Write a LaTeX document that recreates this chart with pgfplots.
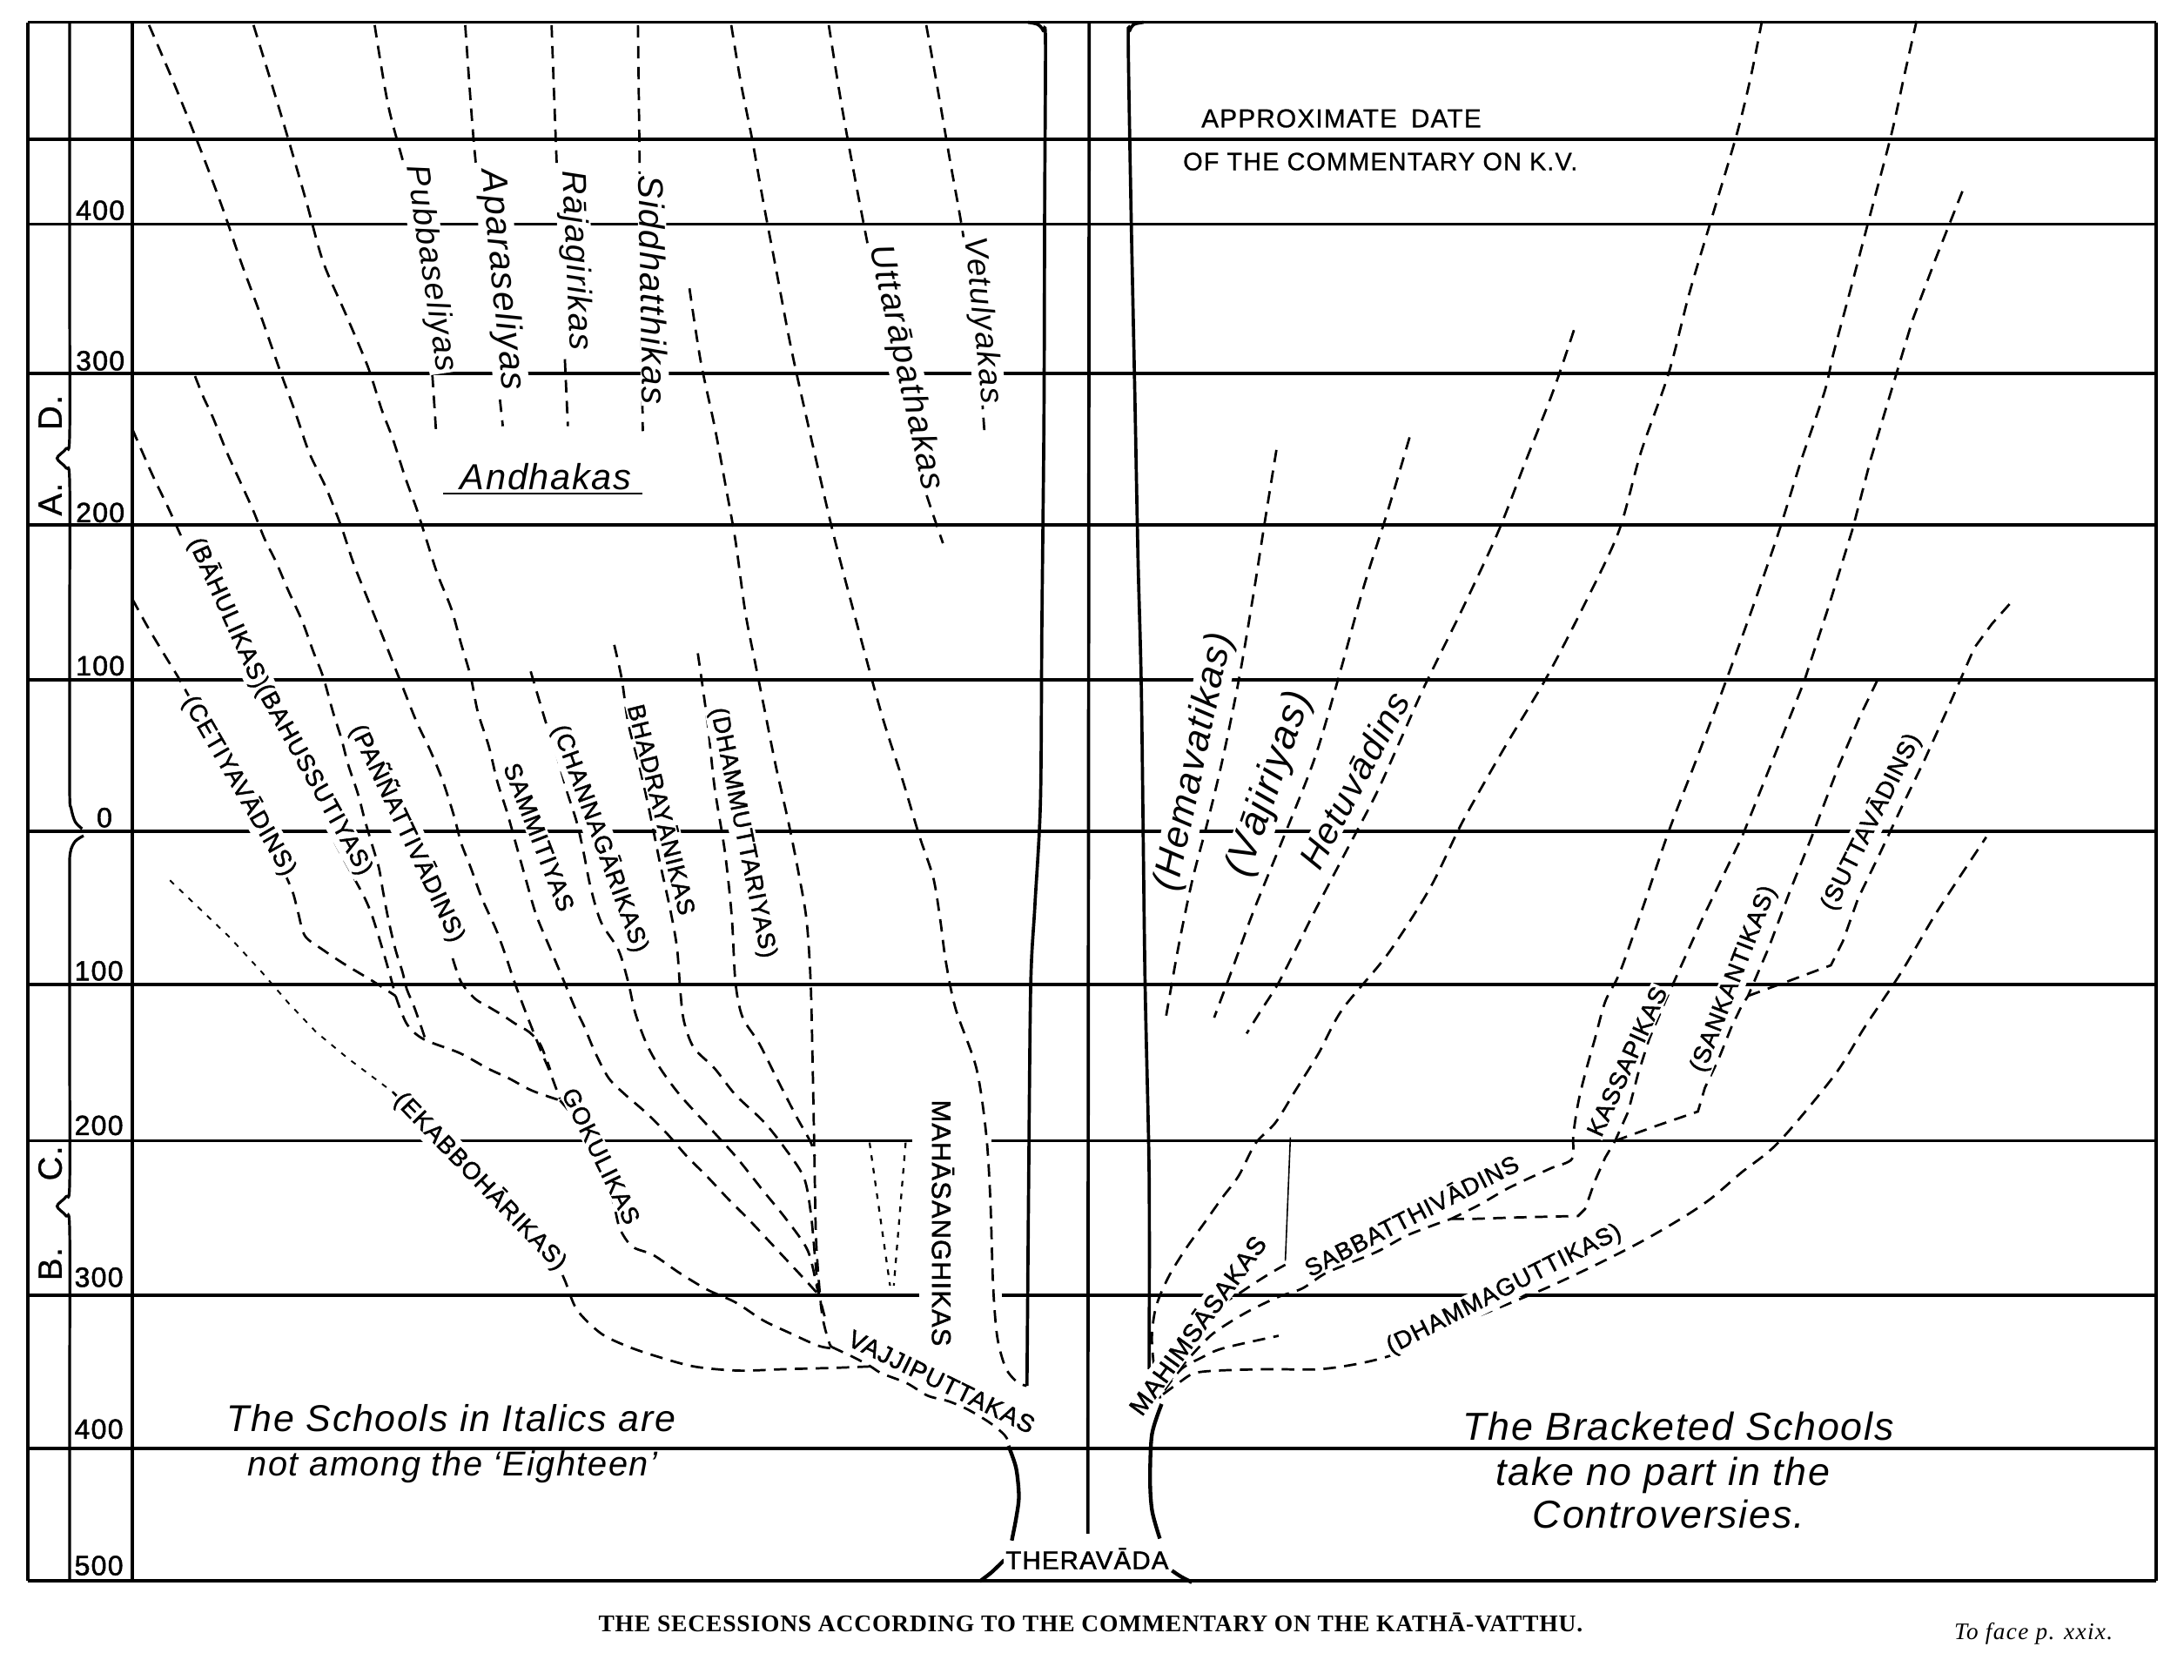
\documentclass[border=0pt]{standalone}
\usepackage{fontspec}
\setmainfont{Liberation Sans}
\newfontfamily\lsans{Liberation Sans}[LetterSpace=4, FakeBold=1.5]
\newfontfamily\lhead{Liberation Sans}[LetterSpace=4, FakeBold=0.8]
\newfontfamily\lital{Liberation Sans}[LetterSpace=4]
\newfontfamily\capser{Liberation Serif}[LetterSpace=3]
\newfontfamily\itser{Liberation Serif}[LetterSpace=5]
\usepackage{pgfplots}
\pgfplotsset{compat=1.18}
\newcommand\fs[1]{\fontsize{#1}{#1}\selectfont}
\tikzset{
  sl/.style={black, line width=1.15pt},
  tl/.style={black, line width=1.35pt},
  dl/.style={black, line width=0.85pt, dash pattern=on 4.5pt off 3pt},
  fl/.style={black, line width=0.6pt, dash pattern=on 2pt off 2.6pt},
  capl/.style={font=\lsans\fs{8.7}, fill=white, inner sep=0.6pt},
  itl/.style={fill=white, inner sep=0.4pt},
  yl/.style={font=\lsans\fs{10}, inner sep=0pt},
}
\newcommand\cl[4]{\node[capl, rotate=#3] at (axis cs:#1,#2) {#4};}
\newcommand\il[5]{\node[itl, rotate=#4, font=\lital\itshape\fs{#5}] at (axis cs:#1,#2) {#3};}
\begin{document}
\begin{tikzpicture}
\begin{axis}[scale only axis, width=784pt, height=603pt,
  xmin=0, xmax=1568, ymin=0, ymax=1206, y dir=reverse,
  axis lines=none, clip=false]
\path (axis cs:0,0) rectangle (axis cs:1568,1206);
% ---------- frame and grid ----------
\addplot[sl] coordinates {(20,16) (1548,16)};
\addplot[sl] coordinates {(20,1135) (1548,1135)};
\addplot[sl] coordinates {(20,16) (20,1135)};
\addplot[sl] coordinates {(1548,16) (1548,1135)};
\addplot[sl] coordinates {(95,16) (95,1135)};
\addplot[sl] coordinates {(20,100) (1548,100)};
\addplot[sl] coordinates {(20,161) (1548,161)};
\addplot[sl] coordinates {(20,268) (1548,268)};
\addplot[sl] coordinates {(20,377) (1548,377)};
\addplot[sl] coordinates {(20,488) (1548,488)};
\addplot[sl] coordinates {(20,597) (1548,597)};
\addplot[sl] coordinates {(20,707) (1548,707)};
\addplot[sl] coordinates {(20,819) (655,819)};
\addplot[sl] coordinates {(712,819) (1548,819)};
\addplot[sl] coordinates {(20,930) (660,930)};
\addplot[sl] coordinates {(719,930) (1548,930)};
\addplot[sl] coordinates {(20,1040) (1548,1040)};
% braces
\addplot[sl, line width=1pt, smooth] coordinates {(50,16) (50,200) (50,312) (47.5,322) (41,329) (47.5,336) (50,346) (50,450) (50,566) (51,580) (54,590) (59,595)};
\addplot[sl, line width=1pt, smooth] coordinates {(60,600) (54,604) (50.5,612) (50,630) (50,750) (50,850) (47.5,859) (41,866) (47.5,873) (50,883) (50,1000) (50,1135)};
% central verticals
\addplot[sl, smooth] coordinates {(738,16) (745,17.5) (749,22) (750.6,30) (750,150) (749.5,300) (748,450) (747,575) (743,650) (740,707) (738.5,850) (737.3,995)};
\addplot[sl] coordinates {(782,16) (781,1101)};
\addplot[sl, smooth] coordinates {(821,16) (814,17.5) (811,22) (810,30) (812,150) (814.7,281) (817,400) (819.5,500) (822,700) (825,843) (825,983)};
% trunks
\addplot[tl, smooth] coordinates {(724,1038) (729.5,1054) (731.5,1074) (729.7,1089) (726.4,1106)};
\addplot[tl, smooth] coordinates {(721,1120) (712,1128.7) (703.4,1135.3)};
\addplot[tl, smooth] coordinates {(834,1008) (827,1030) (825.7,1063) (827.2,1085) (832.7,1104.6)};
\addplot[tl, smooth] coordinates {(841.4,1127.6) (848,1132) (855.7,1136)};
\addplot[black, line width=0.5pt] coordinates {(926.4,816.6) (922.8,905.2)};
% Andhakas underline
\addplot[black, line width=0.9pt] coordinates {(318,354.3) (461.5,354.3)};
% ---------- left group dashed ----------
\addplot[dl, smooth] coordinates {(269,18) (279,77) (294,134) (304,191) (309,249) (313,309)};
\addplot[dl, smooth] coordinates {(334,18) (340,100) (348,180) (355,250) (361,306)};
\addplot[dl, smooth] coordinates {(396,18) (399,100) (403,200) (407.7,306)};
\addplot[dl, smooth] coordinates {(458,18) (459,100) (460,200) (461.5,309.5)};
\addplot[dl, smooth] coordinates {(595,18) (605,80) (618,150) (632,220) (648,290) (662,345) (677,390)};
\addplot[dl, smooth] coordinates {(665,18) (672,57) (682,115) (692,172) (702,249) (707,314)};
% Mahasanghikas
\addplot[dl, smooth] coordinates {(525,18) (532,60) (540,100) (548,145) (556,187) (568,250) (582,313) (598,382) (615,447) (633,513) (648,560) (660,600) (670,630) (675,660) (679,690) (686,724) (701,767) (708,814) (711,861) (713,923) (716,960) (722,982) (730,992) (737,995)};
% line from 495,207
\addplot[dl, smooth] coordinates {(495,207) (503,259) (513,306) (521,349) (528,388) (535,439) (542,475) (549,510) (557,550) (566,590) (573,625) (579,660) (582,705) (583.5,767) (584.7,830) (586,892) (590,942) (595,963) (597,967)};
% Dhammuttariyas
\addplot[dl, smooth] coordinates {(501,469) (508,519) (513,565) (520.5,612) (525.4,658.5) (528,705) (533,730) (545,749) (557.6,774) (572,802) (582,820) (585,830)};
% Bhadrayanikas
\addplot[dl, smooth] coordinates {(441,463) (446.4,487.5) (451,519) (459,550) (466,581) (473.5,618) (481,652) (486,680) (488.4,711) (491,733) (498,752) (513,767) (528,786) (548,805) (562.5,823) (577,845) (582,870) (585,901) (587,923) (590,940)};
% Sammitiyas / Channagarikas
\addplot[dl, smooth] coordinates {(381,482) (392,519) (399,540) (407,568) (414,590) (419,612) (424,637) (431.5,662) (444,682) (451,705) (456,727) (464,749) (474,767) (488,786) (508,808) (528,830) (548,855) (565,876) (580,898) (587,926) (592,945)};
% L2
\addplot[dl, smooth] coordinates {(182,18) (195,60) (207,100) (220,145) (232,188) (248,225) (264,263) (274,294) (282,315) (291,343) (299,365) (306,387) (314,412) (324,437) (331,462) (338,486) (343,511) (351,536) (357,561) (364,583) (371,608) (378,633) (385,657) (395,681) (403,700) (408,712) (413,724) (419,736) (427,755) (437,774) (449,786) (464,799) (479,814) (493,830) (508,845) (523,861) (538,876) (553,892) (567,907) (580,921) (590,932)};
% L1
\addplot[dl, smooth] coordinates {(107,18) (125,60) (145,110) (160,150) (173,188) (187,226) (201,266) (212,296) (222,325) (234,350) (245,378) (254,405) (264,430) (274,455) (289,493) (299,518) (309,539) (318,561) (326,586) (331,605) (338,623) (346,645) (356,667) (363,686) (369,704) (376,723) (383,741) (389,756) (395,770) (402,789)};
% line c
\addplot[dl, smooth] coordinates {(140,270) (146,285) (153,300) (163,325) (173,347) (182,367) (190,387) (198,403) (207,424) (217,446) (225,468) (232,486) (239,511) (245,530) (250,549) (257,570) (262,589) (267,606) (272,623) (275,640) (279,661) (284,682) (289,698) (292,710) (297,722) (302,736) (306,748)};
% Bahulikas
\addplot[dl, smooth] coordinates {(95,308) (109,340) (121,365) (131,387) (140,405) (150,425) (160,445) (170,465) (180,485) (192,510) (205,535) (218,560) (230,585) (242,608) (254,630) (262,645) (267,657) (273,676) (280,700) (284,715)};
% Cetiyavadins
\addplot[dl, smooth] coordinates {(95,430) (106,450) (118,470) (129,488) (140,508) (150,527) (160,545) (171,564) (182,583) (192,602) (202,622) (210,640) (214,655) (219,672) (232,682) (247,692) (267,704) (284,715)};
% combined
\addplot[dl, smooth] coordinates {(284,715) (292,735) (304,746) (330,756) (350,767) (365,774) (382,783) (402,790)};
% Pannattivadins bend
\addplot[dl, smooth] coordinates {(325,688) (331,705) (341,717) (351,723) (361,729) (370,735) (380,741) (388,750) (395,768)};
% Gokulikas
\addplot[dl, smooth] coordinates {(402,790) (410,800) (420,820) (431,840) (440,862) (445,882) (454,895) (469,901) (488,914) (508,926) (528,935) (548,948) (567,957) (587,966) (597,968)};
% Ekabboharikas
\addplot[fl] coordinates {(122,632) (143,652) (165,673) (188,698) (207,720) (227,741) (250,760) (282,784)};
\addplot[dl, smooth] coordinates {(282,784) (345,848) (395,900) (405,918) (414,940) (431,957) (449,966) (469,973) (498,981) (530,984) (563,983) (600,982) (625,981)};
% Vajjiputtakas
\addplot[dl, smooth] coordinates {(597,967) (614,975) (625,981) (633,986) (651,993) (666,1002) (681,1006) (695,1012) (710,1021) (721,1030) (725,1037)};
% small V
\addplot[fl, line width=0.7pt] coordinates {(624.3,820.3) (639,923)};
\addplot[fl, line width=0.7pt] coordinates {(650.2,820.3) (641.7,923)};
% ---------- right group dashed ----------
\addplot[dl, smooth] coordinates {(916.4,323) (908,375) (900,426) (890,485) (878,544) (867,590) (856,632) (846,680) (836.6,733)};
\addplot[dl, smooth] coordinates {(1012,314) (996,368) (979,421.5) (962,483) (944,544) (922,600) (900,654) (885,695) (871.7,730.6)};
\addplot[dl, smooth] coordinates {(1130,237) (1115,281) (1095,332) (1075.5,382) (1050,437) (1023,492) (1006,530) (988,570) (966,612) (944,654) (931,680) (917.7,706) (905,726) (895,742)};
% line d
\addplot[dl, smooth] coordinates {(1265,15) (1257,55) (1247,96) (1230,153) (1213,210) (1198,268) (1178,325) (1162,382) (1137,435) (1110,487) (1080,537) (1050,590) (1027,637) (996.6,684.6) (963.5,725) (946.8,756) (930,783) (915.7,806) (901.3,821) (889.4,844) (877.4,860) (865,877.5) (851,897) (838.8,917) (830,938) (827,960) (829,985) (833,1004)};
% Sabbatthivadins upper
\addplot[dl, smooth] coordinates {(1376,15) (1367,55) (1358,96) (1343,153) (1328,210) (1316,255) (1310,281) (1293,331) (1277,382) (1258,437) (1238,492) (1218,545) (1198,597) (1180,650) (1163,698) (1152.5,719) (1145,746) (1138,771) (1133,792) (1129.5,815) (1128.6,832) (1114,838.5) (1097.5,846) (1081,854) (1062,865) (1042,875)};
% Sabbatthivadins trunk
\addplot[dl, smooth] coordinates {(836,996) (851,978) (869,959) (885,948) (899,940) (918,931) (935,925) (951,914.5) (971,906) (990,898) (1009,887.5) (1028,880) (1042,875)};
% Kassapikas
\addplot[dl] coordinates {(1042,875) (1060,875) (1090,874) (1133,873) (1138,868) (1145,848) (1152.5,831) (1159.6,819) (1169,798) (1176,771) (1184,746) (1195.5,719) (1222,660) (1251,600) (1273,545) (1295,490) (1313,435) (1330,380) (1343,330) (1358,280) (1373,230) (1390,185) (1411,132)};
% Sankantikas
\addplot[dl] coordinates {(1159.6,819) (1190,808) (1219,798) (1224,781) (1234,760) (1243,737.5) (1250,723) (1255,715) (1270,680) (1285,640) (1301,600) (1320,550) (1335,515) (1349.5,485)};
% Suttavadins
\addplot[dl] coordinates {(1255,715) (1285,704) (1314.5,693) (1323,676) (1334,645) (1350,612) (1365,580) (1382,545) (1400,505) (1417.5,465) (1430,448) (1443.8,432.5)};
% Dhammaguttikas
\addplot[dl, smooth] coordinates {(835,1001) (846,993) (857,986) (874,984) (910,983) (947,983) (975.5,979) (999,973) (1023,962.5) (1054,948) (1085.5,935) (1114,923) (1150,906) (1181,890) (1210,873) (1229,860) (1250,842) (1277,820) (1317,772) (1339,737) (1365,698) (1391,654) (1426,601)};
% stub
\addplot[dl, smooth] coordinates {(836,998) (848,983) (862,975) (878,968) (918,959)};
% from thin solid line
\addplot[dl, smooth] coordinates {(922.8,908) (913,913.5) (901,921) (889,929) (876,937) (862,948) (850,962) (842,980) (836,995)};
% ---------- labels: left group ----------
\il{309}{193}{Pubbaseliyas}{-81.5}{11.7}
\il{360}{201}{Aparaseliyas}{-84.6}{12.9}
\il{413}{187}{Rājagirikas}{-87.7}{12.1}
\il{469}{208}{Siddhatthikas}{-89}{12.7}
\il{650}{264}{Uttarāpathakas}{-77.6}{12.3}
\il{705}{230}{Vetulyakas}{-84}{11.5}
\node[inner sep=0pt, font=\lital\itshape\fs{13}] at (axis cs:392,342) {Andhakas};
\cl{164}{440}{-65.7}{(BĀHULIKAS)}
\cl{225}{560}{-60.9}{(BAHUSSUTIYAS)}
\cl{172}{564}{-60}{(CETIYAVĀDINS)}
\cl{293}{598}{-64.6}{(PAÑÑATTIVĀDINS)}
\cl{387}{601}{-68.9}{SAMMITIYAS}
\cl{431}{602}{-70}{(CHANNAGĀRIKAS)}
\cl{476}{581}{-76}{BHADRAYĀNIKAS}
\cl{533}{598}{-78.5}{(DHAMMUTTARIYAS)}
\cl{431.5}{830}{-64}{GOKULIKAS}
\cl{345}{848}{-46}{(EKABBOHĀRIKAS)}
\node[capl, rotate=-26, font=\lsans\fs{8.9}] at (axis cs:676,992) {VAJJIPUTTAKAS};
\node[capl, rotate=-90, font=\lsans\fs{9.6}] at (axis cs:677,878) {MAHĀSANGHIKAS};
\node[capl, font=\lsans\fs{9.2}] at (axis cs:780.5,1119) {THERAVĀDA};
% ---------- labels: right group ----------
\il{858}{547}{(Hemavatikas)}{78}{13.6}
\il{912}{563}{(Vājiriyas)}{71}{14.3}
\il{972}{560}{Hetuvādins}{62}{13}
\node[capl, rotate=54, font=\lsans\fs{9.1}] at (axis cs:859,951) {MAHIMSĀSAKAS};
\cl{1013}{872}{27.1}{SABBATTHIVĀDINS}
\cl{1080}{926}{26.9}{(DHAMMAGUTTIKAS)}
\cl{1168}{762}{65.6}{KASSAPIKAS}
\cl{1245}{703}{68.7}{(SANKANTIKAS)}
\cl{1343}{590}{63.4}{(SUTTAVĀDINS)}
% ---------- headings ----------
\node[inner sep=0pt, font=\lhead\fs{9.3}] at (axis cs:963,85) {APPROXIMATE\hspace{5pt}DATE};
\node[inner sep=0pt, font=\lhead\fs{9}] at (axis cs:991,116) {OF THE COMMENTARY ON K.V.};
% year scale
\node[yl] at (axis cs:72,151) {400};
\node[yl] at (axis cs:72,259) {300};
\node[yl] at (axis cs:72,368) {200};
\node[yl] at (axis cs:72,478) {100};
\node[yl] at (axis cs:75,587) {0};
\node[yl] at (axis cs:71,697) {100};
\node[yl] at (axis cs:71,808) {200};
\node[yl] at (axis cs:71,917) {300};
\node[yl] at (axis cs:71,1026) {400};
\node[yl] at (axis cs:71,1124) {500};
\node[rotate=90, inner sep=0pt, font=\lhead\fs{12}] at (axis cs:36,327) {A.\hspace{19pt}D.};
\node[rotate=90, inner sep=0pt, font=\lhead\fs{12}] at (axis cs:36,871) {B.\hspace{24pt}C.};
% notes
\node[inner sep=0pt, font=\lital\itshape\fs{13.4}] at (axis cs:324,1018) {The Schools in Italics are};
\node[inner sep=0pt, font=\lital\itshape\fs{12.4}] at (axis cs:325,1053) {not among the ‘Eighteen’};
\node[inner sep=0pt, font=\lital\itshape\fs{14}] at (axis cs:1205,1024) {The Bracketed Schools};
\node[inner sep=0pt, font=\lital\itshape\fs{14}] at (axis cs:1194,1059) {take no part in the};
\node[inner sep=0pt, font=\lital\itshape\fs{14}] at (axis cs:1198,1087) {Controversies.};
% caption
\node[inner sep=0pt, font=\capser\bfseries\fs{8.6}] at (axis cs:783,1165) {THE SECESSIONS ACCORDING TO THE COMMENTARY ON THE KATHĀ-VATTHU.};
\node[inner sep=0pt, font=\itser\itshape\fs{8.5}] at (axis cs:1460,1173) {To face p. xxix.};
\end{axis}
\end{tikzpicture}
\end{document}
